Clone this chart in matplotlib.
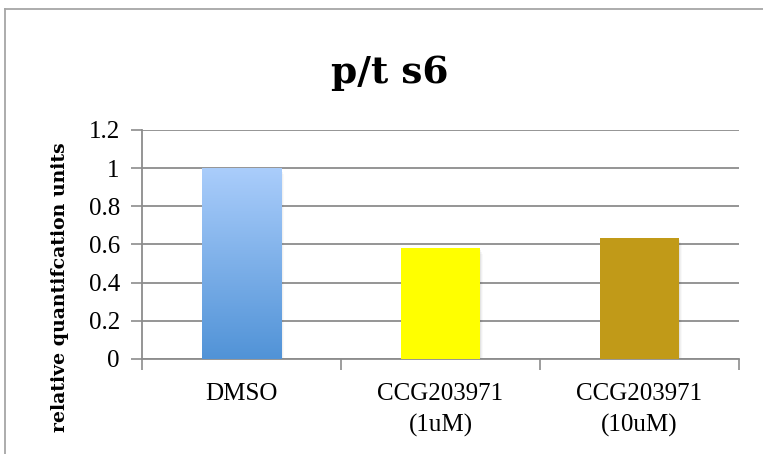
import numpy as np
import matplotlib
matplotlib.use('Agg')
import matplotlib.pyplot as plt
from matplotlib.lines import Line2D
from matplotlib.colors import LinearSegmentedColormap

# p/t S6 quantification
groups = ['DMSO', 'CCG203971\n(1uM)', 'CCG203971\n(10uM)']
values = [1.0, 0.58, 0.635]
colors = ['#7fb2ec', '#ffff00', '#c19a18']
yticks = [0, 0.2, 0.4, 0.6, 0.8, 1.0, 1.2]

plt.rcParams['font.family'] = 'Liberation Serif'

fig = plt.figure(figsize=(7.63, 4.54), dpi=100)
ax = fig.add_axes([0.1861, 0.2093, 0.7824, 0.5044])

grid_c = '#8c8c8c'
x = np.arange(len(groups))
bars = ax.bar(x, values, width=0.4, color=colors, zorder=3)

# soft drop shadow behind each bar
for b in bars:
    for k, a in enumerate([0.05, 0.035, 0.025]):
        off = 0.005 * (k + 1)
        sh = plt.Rectangle((b.get_x() + off, 0.0), b.get_width(), b.get_height() - off * 2,
                           facecolor='black', alpha=a, edgecolor='none', zorder=2.5)
        ax.add_patch(sh)

# vertical gradient on the DMSO bar
cmap = LinearSegmentedColormap.from_list('dmso', ['#5193d7', '#aacdfb'])
b0 = bars[0]
grad = np.linspace(0, 1, 256).reshape(-1, 1)
im = ax.imshow(grad, cmap=cmap, origin='lower', aspect='auto', zorder=3.5,
               extent=[b0.get_x(), b0.get_x() + b0.get_width(), 0, b0.get_height()])
im.set_clip_path(b0)

ax.set_xlim(-0.5, 2.5)
ax.set_ylim(0, 1.2)
ax.set_yticks(yticks)
ax.set_yticklabels(['%g' % t for t in yticks])
ax.set_xticks(x)
ax.set_xticklabels(groups, linespacing=1.55)
ax.set_xticks([-0.5, 0.5, 1.5, 2.5], minor=True)
ax.tick_params(axis='x', which='major', length=0, pad=17, labelsize=18, colors='black')
ax.tick_params(axis='x', which='minor', length=8, width=1.2, color=grid_c)
ax.tick_params(axis='y', length=8, width=1.2, color=grid_c, labelsize=18, pad=8)

ax.yaxis.grid(True, color=grid_c, linewidth=1.3, zorder=0)
ax.set_axisbelow(True)
for s in ['top', 'right']:
    ax.spines[s].set_visible(False)
for s in ['left', 'bottom']:
    ax.spines[s].set_color(grid_c)
    ax.spines[s].set_linewidth(1.3)

fig.text(390 / 763, 1 - 83 / 454, 'p/t s6', ha='center', va='baseline',
         fontsize=27, fontweight='bold', family='DejaVu Serif')
fig.text(60 / 763, 1 - 287 / 454, 'relative quantifcation units', ha='center', va='center',
         rotation=90, fontsize=13.6, fontweight='bold', family='DejaVu Serif')

# chart frame
frame_c = '#a6a6a6'
fig.add_artist(Line2D([5 / 763, 1.0], [1 - 9 / 454] * 2, color=frame_c, linewidth=1.3,
                      transform=fig.transFigure))
fig.add_artist(Line2D([5 / 763] * 2, [0, 1 - 9 / 454], color=frame_c, linewidth=1.3,
                      transform=fig.transFigure))

fig.savefig('out.png', dpi=100, facecolor='white')
